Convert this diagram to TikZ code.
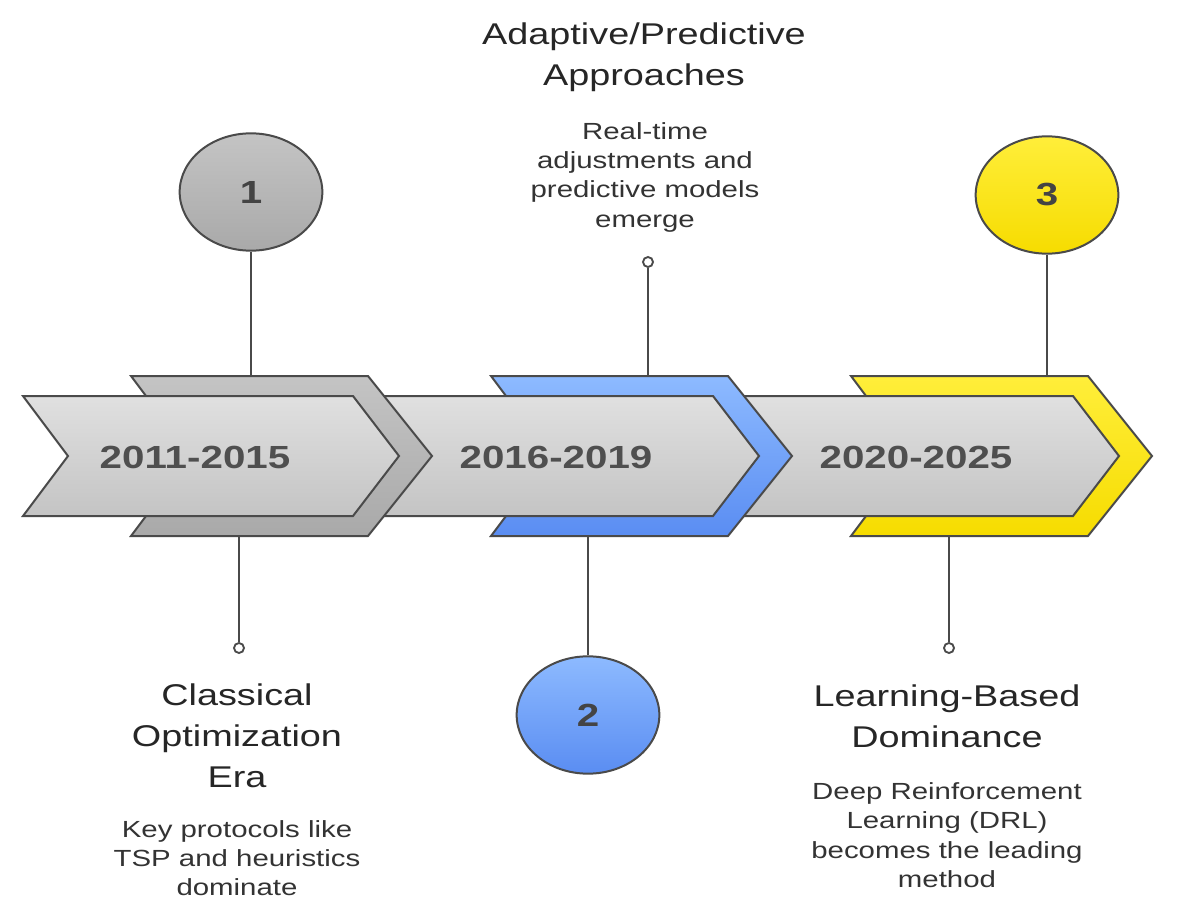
\documentclass[tikz,border=0pt]{standalone}
\usepackage{fontspec}
\setmainfont{Liberation Sans}[FakeStretch=1.26]
\usetikzlibrary{shapes.geometric}
\definecolor{edge}{HTML}{4A4A4A}
\definecolor{frontT}{HTML}{E0E0E0}
\definecolor{frontB}{HTML}{C4C4C4}
\definecolor{greyT}{HTML}{C4C4C4}
\definecolor{greyB}{HTML}{A9A9A9}
\definecolor{blueT}{HTML}{8DBAFF}
\definecolor{blueB}{HTML}{5A8DF2}
\definecolor{yelT}{HTML}{FFEE3A}
\definecolor{yelB}{HTML}{F6DC00}
\definecolor{yearc}{HTML}{4F4F4F}
\definecolor{numc}{HTML}{444444}
\definecolor{titlec}{HTML}{262626}
\definecolor{bodyc}{HTML}{333333}
\begin{document}
\begin{tikzpicture}[x=0.75pt,y=-0.75pt,
  chev/.style={draw=edge, line width=1.5pt, line join=miter},
  frontchev/.style={chev, top color=frontT, bottom color=frontB},
  greychev/.style={chev, top color=greyT, bottom color=greyB},
  bluechev/.style={chev, top color=blueT, bottom color=blueB},
  yelchev/.style={chev, top color=yelT, bottom color=yelB},
  yeartext/.style={font=\bfseries\fontsize{24}{28}\selectfont, text=yearc},
  numnode/.style={ellipse, draw=edge, line width=1.5pt, minimum width=107pt, minimum height=88pt, inner sep=0pt, font=\bfseries\fontsize{24}{28}\selectfont, text=numc},
  titletext/.style={align=center, font=\fontsize{22.5}{30.75}\selectfont, text=titlec, inner sep=0pt},
  bodytext/.style={align=center, font=\fontsize{17.5}{22}\selectfont, text=bodyc, inner sep=0pt},
  conn/.style={draw=edge, line width=1.5pt},
  dotnode/.style={circle, draw=edge, line width=1.4pt, minimum size=7.5pt, inner sep=0pt, fill=white}
]
\useasboundingbox (0,0) rectangle (1185,916);
\fill[white] (0,0) rectangle (1185,916);

% stage 3 (back, front)
\path[yelchev] (851,376) -- (1088,376) -- (1152,456) -- (1088,536) -- (851,536) -- (911,456) -- cycle;
\path[frontchev] (743,396) -- (1073,396) -- (1119,456) -- (1073,516) -- (743,516) -- (788,456) -- cycle;
% stage 2
\path[bluechev] (491,376) -- (728,376) -- (792,456) -- (728,536) -- (491,536) -- (551,456) -- cycle;
\path[frontchev] (383,396) -- (713,396) -- (759,456) -- (713,516) -- (383,516) -- (428,456) -- cycle;
% stage 1
\path[greychev] (131,376) -- (368,376) -- (432,456) -- (368,536) -- (131,536) -- (191,456) -- cycle;
\path[frontchev] (23,396) -- (353,396) -- (399,456) -- (353,516) -- (23,516) -- (68,456) -- cycle;

\node[yeartext] (y1) at (195,457) {2011-2015};
\node[yeartext] (y2) at (556,457) {2016-2019};
\node[yeartext] (y3) at (916,457) {2020-2025};

% attachment points on the back chevrons
\coordinate (t1) at (251,376);
\coordinate (b1) at (239,536);
\coordinate (t2) at (648,376);
\coordinate (b2) at (588,536);
\coordinate (t3) at (1047,376);
\coordinate (b3) at (949,536);

% numbered circles
\node[numnode, top color=greyT, bottom color=greyB] (n1) at (251,192) {1};
\node[numnode, top color=blueT, bottom color=blueB] (n2) at (588,715) {2};
\node[numnode, top color=yelT, bottom color=yelB] (n3) at (1047,195) {3};

% small end dots
\node[dotnode] (d1) at (239,648) {};
\node[dotnode] (d2) at (648,262) {};
\node[dotnode] (d3) at (949,648) {};

% connectors
\draw[conn] (n1) -- (t1);
\draw[conn] (b2) -- (n2);
\draw[conn] (n3) -- (t3);
\draw[conn] (b1) -- (d1);
\draw[conn] (t2) -- (d2);
\draw[conn] (b3) -- (d3);

% labels
\node[titletext] (h2) at (644,57) {Adaptive/Predictive\\Approaches};
\node[bodytext] (p2) at (645,177) {Real-time\\adjustments and\\predictive models\\emerge};
\node[titletext] (h1) at (237,736) {Classical\\Optimization\\Era};
\node[bodytext] (p1) at (237,858) {Key protocols like\\TSP and heuristics\\dominate};
\node[titletext] (h3) at (947,716) {Learning-Based\\Dominance};
\node[bodytext] (p3) at (947,835) {Deep Reinforcement\\Learning (DRL)\\becomes the leading\\method};
\end{tikzpicture}
\end{document}
